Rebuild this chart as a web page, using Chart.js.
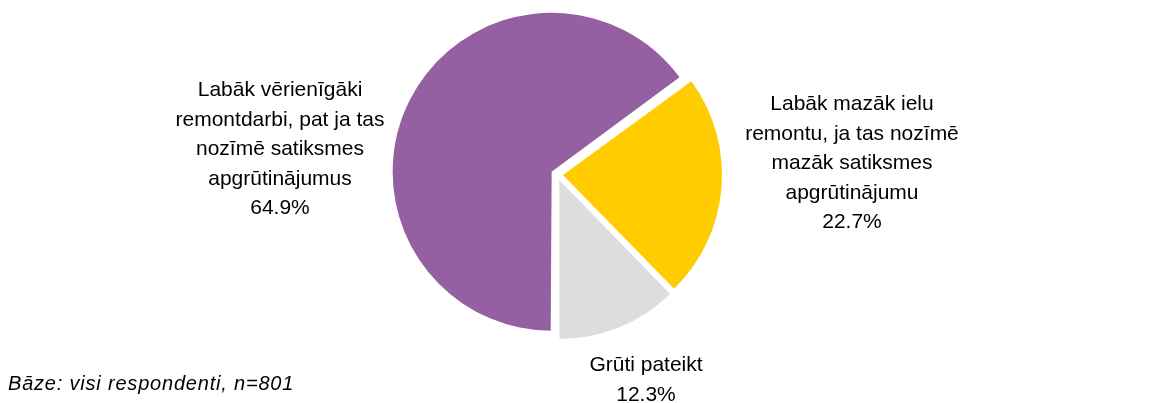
<!DOCTYPE html>
<html>
<head>
<meta charset="utf-8">
<script src="https://cdn.jsdelivr.net/npm/chart.js@4"></script>
<style>
    html, body { margin: 0; padding: 0; background: #fff; }
    #wrap { position: relative; width: 1172px; height: 403px; }
    #note {
        position: absolute; left: 8px; top: 372px;
        font: italic 20px "Liberation Sans", Arial, sans-serif; color: #000;
        letter-spacing: 0.8px; white-space: nowrap;
    }
</style>
</head>
<body>
<div id="wrap">
    <canvas id="pieChart" width="1172" height="403"></canvas>
    <div id="note">Bāze: visi respondenti, n=801</div>
</div>
<script>
// --- DATA ---
const categories = [
    'Labāk vērienīgāki remontdarbi, pat ja tas nozīmē satiksmes apgrūtinājumus',
    'Labāk mazāk ielu remontu, ja tas nozīmē mazāk satiksmes apgrūtinājumu',
    'Grūti pateikt'
];
const values = [64.9, 22.7, 12.3];
const labelLines = [
    ['Labāk vērienīgāki', 'remontdarbi, pat ja tas', 'nozīmē satiksmes', 'apgrūtinājumus'],
    ['Labāk mazāk ielu', 'remontu, ja tas nozīmē', 'mazāk satiksmes', 'apgrūtinājumu'],
    ['Grūti pateikt']
];

// --- STYLE / LAYOUT ---
const colors = ['#9560a2', '#ffcc00', '#dddddd'];
const PIE_RADIUS = 159;
const SLICE_OFFSET = 24; // chart.js moves the arc by offset/4 px
// label block centre x and first baseline (page pixels)
const labelPos = [
    { x: 280, y: 96 },
    { x: 852, y: 110 },
    { x: 646, y: 371 }
];
const LINE_H = 29.5;

// chart.js enlarges exploded arcs a bit, keep every slice at the same radius
const keepRadius = {
    id: 'keepRadius',
    afterDatasetsUpdate(chart) {
        chart.getDatasetMeta(0).data.forEach(arc => {
            const c = arc.endAngle - arc.startAngle;
            const fix = 1 - Math.sin(Math.min(Math.PI, c));
            arc.outerRadius = PIE_RADIUS - (SLICE_OFFSET / 4) * fix;
        });
    }
};

// draws the outside labels of the slices
const outsideLabels = {
    id: 'outsideLabels',
    afterDraw(chart) {
        const ctx = chart.ctx;
        ctx.save();
        ctx.font = '21px "Liberation Sans", Arial, sans-serif';
        ctx.fillStyle = '#000';
        ctx.textAlign = 'center';
        ctx.textBaseline = 'alphabetic';
        values.forEach((v, i) => {
            const lines = labelLines[i].concat([v.toFixed(1) + '%']);
            lines.forEach((t, j) => {
                ctx.fillText(t, labelPos[i].x, labelPos[i].y + j * LINE_H);
            });
        });
        ctx.restore();
    }
};

const ctx = document.getElementById('pieChart').getContext('2d');
new Chart(ctx, {
    type: 'pie',
    data: {
        labels: categories,
        datasets: [{
            data: values,
            backgroundColor: colors,
            borderWidth: 0,
            offset: SLICE_OFFSET
        }]
    },
    options: {
        responsive: false,
        animation: false,
        rotation: 180,
        radius: PIE_RADIUS,
        layout: { padding: { left: 0, right: 58, top: 0, bottom: 54 } },
        plugins: {
            legend: { display: false },
            tooltip: { enabled: false }
        }
    },
    plugins: [keepRadius, outsideLabels]
});
</script>
</body>
</html>
